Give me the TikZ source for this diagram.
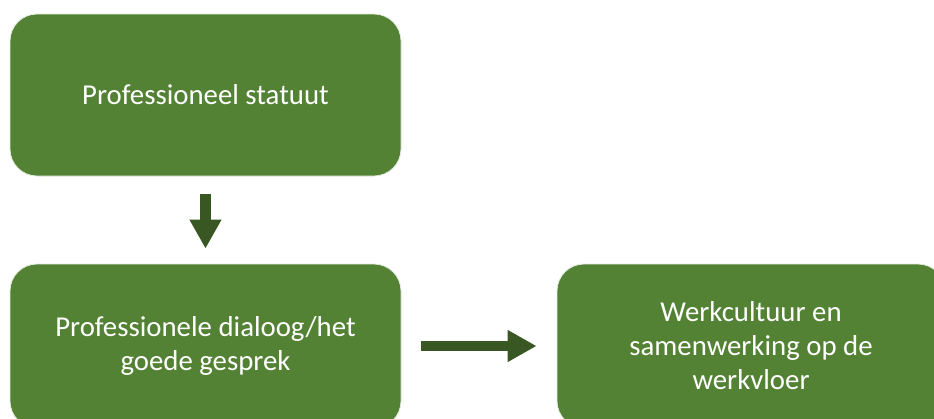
\documentclass[tikz,border=0pt]{standalone}
\usepackage{fontspec}
\setmainfont{Carlito}
\usetikzlibrary{arrows.meta,positioning}
\definecolor{boxgreen}{HTML}{548235}
\definecolor{arrowgreen}{HTML}{385723}
\tikzset{
  greenbox/.style={rectangle, rounded corners=27pt, fill=boxgreen, draw=white!85!boxgreen, line width=0.8pt,
    text=white, align=center, inner sep=0pt,
    font=\fontsize{28.8}{34}\selectfont},
  blockarrow/.style={draw=arrowgreen, line width=10.5pt,
    -{Triangle[width=30pt,length=29pt]}, arrowgreen}
}
\begin{document}
\begin{tikzpicture}[x=1pt,y=-1pt]
\clip (0,0) rectangle (934,418);
\fill[white] (0,0) rectangle (934,418);
\node[greenbox, minimum width=391pt, minimum height=162pt] (top) at (205.5,95) {Professioneel statuut};
\node[greenbox, minimum width=391pt, minimum height=164pt] (mid) at (205.5,346) {Professionele dialoog/het\\goede gesprek};
\node[greenbox, minimum width=388pt, minimum height=164pt] (right) at (751,346) {Werkcultuur en\\samenwerking op de\\werkvloer};
\draw[blockarrow, shorten <=18pt, shorten >=15pt] (top.south) -- (mid.north);
\draw[blockarrow, shorten <=20pt, shorten >=20pt] (mid.east) -- (right.west);
\end{tikzpicture}
\end{document}
